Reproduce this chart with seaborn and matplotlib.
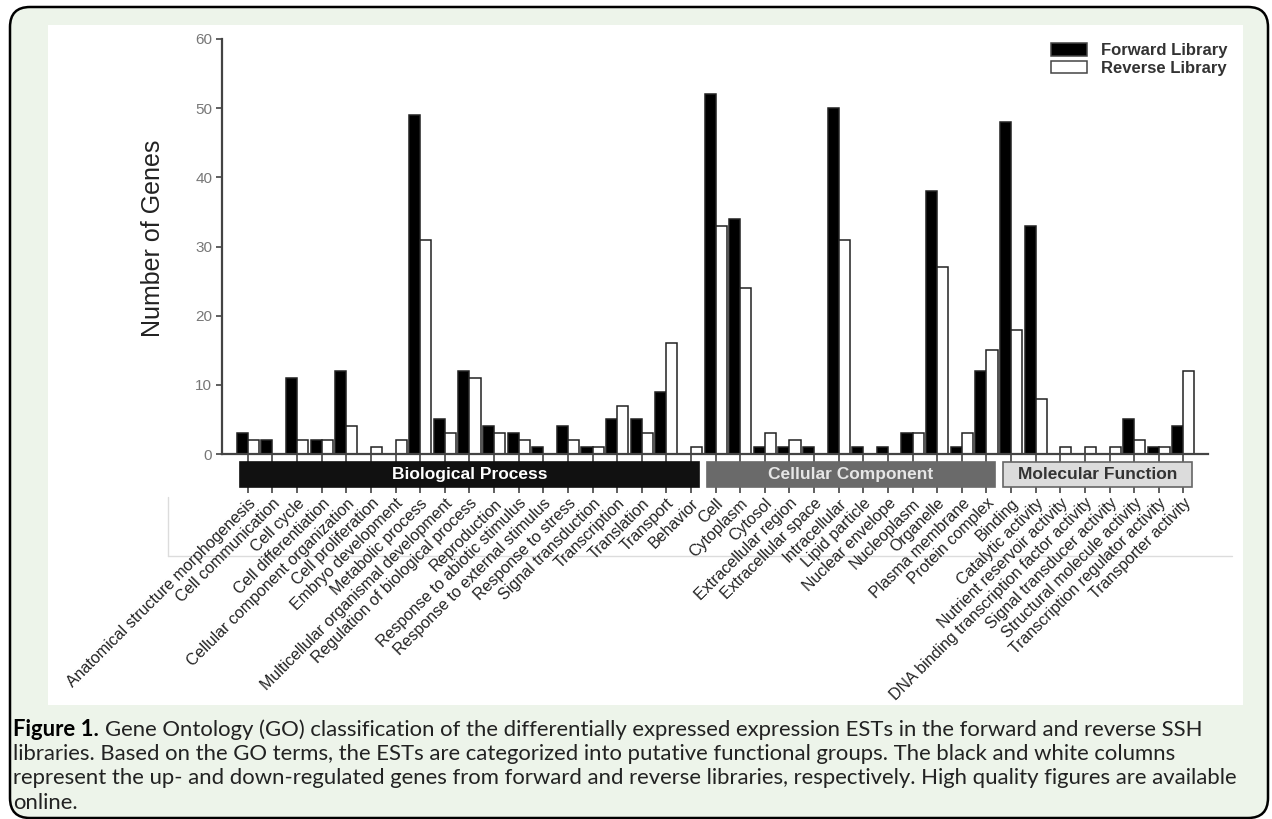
import numpy as np
import pandas as pd
import matplotlib
matplotlib.use('Agg')
import matplotlib.pyplot as plt
import matplotlib.transforms as mtransforms
from matplotlib.patches import FancyBboxPatch, Rectangle
import seaborn as sns

# GO terms, in plotting order
terms = [
    'Anatomical structure morphogenesis', 'Cell communication', 'Cell cycle',
    'Cell differentiation', 'Cellular component organization', 'Cell proliferation',
    'Embryo development', 'Metabolic process', 'Multicellular organismal development',
    'Regulation of biological process', 'Reproduction', 'Response to abiotic stimulus',
    'Response to external stimulus', 'Response to stress', 'Signal transduction',
    'Transcription', 'Translation', 'Transport', 'Behavior',
    'Cell', 'Cytoplasm', 'Cytosol', 'Extracellular region', 'Extracellular space',
    'Intracellular', 'Lipid particle', 'Nuclear envelope', 'Nucleoplasm', 'Organelle',
    'Plasma membrane', 'Protein complex',
    'Binding', 'Catalytic activity', 'Nutrient reservoir activity',
    'DNA binding transcription factor activity', 'Signal transducer activity',
    'Structural molecule activity', 'Transcription regulator activity',
    'Transporter activity',
]
forward = [3, 2, 11, 2, 12, 0, 0, 49, 5, 12, 4, 3, 1, 4, 1, 5, 5, 9, 0,
           52, 34, 1, 1, 1, 50, 1, 1, 3, 38, 1, 12,
           48, 33, 0, 0, 0, 5, 1, 4]
reverse = [2, 0, 2, 2, 4, 1, 2, 31, 3, 11, 3, 2, 0, 2, 1, 7, 3, 16, 1,
           33, 24, 3, 2, 0, 31, 0, 0, 3, 27, 3, 15,
           18, 8, 1, 1, 1, 2, 1, 12]

groups = ['Biological Process', 'Cellular Component', 'Molecular Function']
group_sizes = [19, 12, 8]
group_face = ['#111111', '#6a6a6a', '#dcdcdc']
group_edge = ['#111111', '#6a6a6a', '#666666']
group_text = ['white', '#e6e6e6', '#333333']

W, H = 1272, 819

sns.set_theme(style='white')
plt.rcParams['font.family'] = ['Liberation Sans', 'DejaVu Sans']

fig = plt.figure(figsize=(W / 100, H / 100), dpi=100)
fig.patch.set_facecolor('white')

# page furniture: green rounded frame + white picture area
bg = fig.add_axes([0, 0, 1, 1], zorder=-5)
bg.set_xlim(0, W)
bg.set_ylim(H, 0)
bg.axis('off')
bg.add_patch(FancyBboxPatch((10, 7), 1258, 811, boxstyle='round,pad=0,rounding_size=20',
                            fc='#edf4ea', ec='black', lw=1.8))
bg.add_patch(Rectangle((48, 25), 1195, 680, fc='white', ec='none'))
bg.plot([168, 1232], [556, 556], color='#dcdcdc', lw=1)
bg.plot([168, 168], [497, 556], color='#dcdcdc', lw=1)

# main chart
ax = fig.add_axes([222 / W, 1 - 454 / H, (1208 - 222) / W, (454 - 39) / H])
ax.patch.set_alpha(0)

n = len(terms)
df = pd.DataFrame({
    'term': terms * 2,
    'count': forward + reverse,
    'library': ['Forward Library'] * n + ['Reverse Library'] * n,
})
sns.barplot(data=df, x='term', y='count', hue='library', order=terms,
            palette={'Forward Library': 'black', 'Reverse Library': 'white'},
            width=0.9, saturation=1, edgecolor='#222222', linewidth=1.1, ax=ax)

ax.set_ylim(0, 60)
ax.set_xlim(-1.05, n - 1 + 1.0)
sns.despine(ax=ax)
for s in ['left', 'bottom']:
    ax.spines[s].set_color('#444444')
    ax.spines[s].set_linewidth(1.6)

ax.set_yticks(range(0, 61, 10))
ax.tick_params(axis='y', length=4, width=1.2, color='#444444', labelsize=11,
               labelcolor='#777777', left=True, pad=3)
ax.tick_params(axis='x', length=28, width=1.2, color='#444444', bottom=True, pad=2)
ax.set_xticks(range(n))
ax.set_xticklabels(terms, rotation=45, ha='right', rotation_mode='anchor',
                   fontsize=11.5, color='#222222')
ax.set_xlabel('')
ax.set_ylabel('Number of Genes', fontsize=18, color='#222222')
ax.yaxis.set_label_coords(-0.058, 0.52)

# group bars under the axis
trans = mtransforms.blended_transform_factory(ax.transData, ax.transAxes)
start = 0
for name, size, fc, ec, tc in zip(groups, group_sizes, group_face, group_edge, group_text):
    x0 = start - 0.33
    x1 = start + size - 1 + 0.33
    ax.add_patch(Rectangle((x0, -0.0795), x1 - x0, 0.0602, transform=trans,
                           clip_on=False, fc=fc, ec=ec, lw=1.2, zorder=5))
    ax.text((x0 + x1) / 2, -0.0795 + 0.0301, name, transform=trans, ha='center',
            va='center', fontsize=12.5, fontweight='bold', color=tc, zorder=6)
    start += size

# legend
handles, labels = ax.get_legend_handles_labels()
leg = ax.legend(handles, labels, loc='upper right', bbox_to_anchor=(1242 / W, 1 - 28 / H),
                bbox_transform=fig.transFigure, frameon=False,
                prop={'weight': 'bold', 'size': 12}, labelcolor='#333333',
                handlelength=2.2, handleheight=0.8, handletextpad=0.8, labelspacing=0.15)
for h in leg.legend_handles:
    h.set_edgecolor('#444444')

# caption
cap_font = 'Lato'
cap_size = 15.9
lines = [
    'Gene Ontology (GO) classification of the differentially expressed expression ESTs in the forward and reverse SSH',
    'libraries. Based on the GO terms, the ESTs are categorized into putative functional groups. The black and white columns',
    'represent the up- and down-regulated genes from forward and reverse libraries, respectively. High quality figures are available',
    'online.',
]
line_y = [730, 754, 778, 803]
renderer = fig.canvas.get_renderer()
t = fig.text(13 / W, 1 - line_y[0] / H, 'Figure 1.', family=cap_font, fontsize=cap_size,
             fontweight='bold', color='black', va='center')
bb = t.get_window_extent(renderer)
fig.text((bb.x1 + 6) / W, 1 - line_y[0] / H, lines[0], family=cap_font, fontsize=cap_size,
         color='#222222', va='center')
for txt, y in zip(lines[1:], line_y[1:]):
    fig.text(13 / W, 1 - y / H, txt, family=cap_font, fontsize=cap_size,
             color='#222222', va='center')

fig.savefig('out.png', dpi=100)
